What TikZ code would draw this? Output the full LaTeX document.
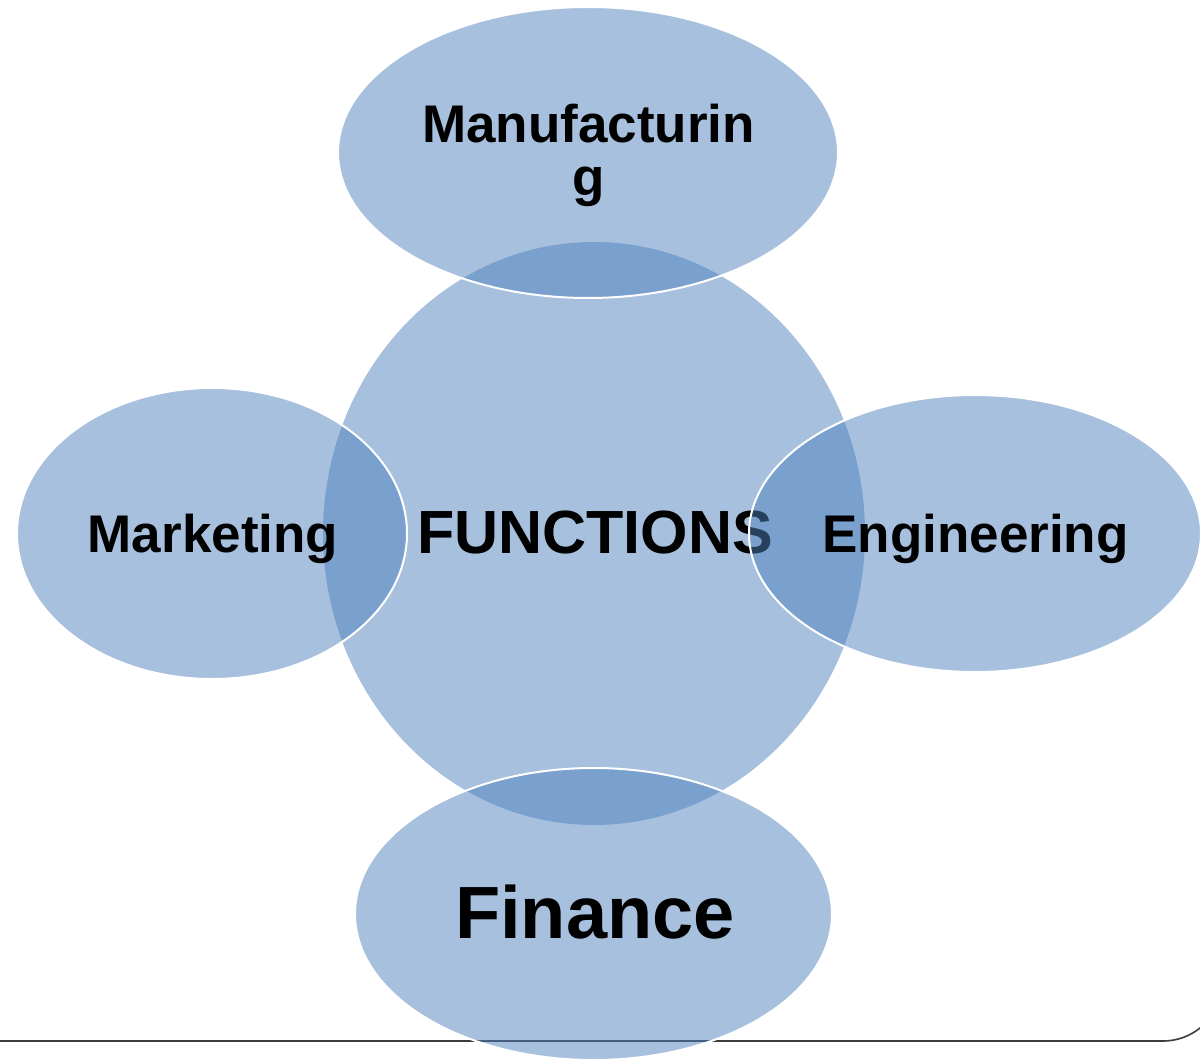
\documentclass[tikz,border=0pt]{standalone}
\usepackage{fontspec}
\setmainfont{Liberation Sans}
\usetikzlibrary{shapes.geometric}
\definecolor{ofblue}{RGB}{79,129,189}
\definecolor{rulegray}{RGB}{60,60,60}
\begin{document}
\begin{tikzpicture}[x=1pt,y=-1pt,
  bubble/.style={ellipse, fill=ofblue, fill opacity=0.5, inner sep=0pt, outer sep=0pt},
  outerbubble/.style={bubble, draw=white, draw opacity=1, line width=2pt},
  lbl/.style={font=\bfseries\fontsize{53}{53}\selectfont, text=black, inner sep=0pt, anchor=base, align=center},
  rule/.style={draw=rulegray, line width=1.6pt}]
\useasboundingbox (0,0) rectangle (1200,1062);
\clip (0,0) rectangle (1200,1062);
% frame rule at bottom
\coordinate (rl) at (0,1041);
\coordinate (rc) at (1163,1041);
\draw[rule] (rl) -- (rc) arc[start angle=90, end angle=40, radius=59];
% central bubble
\node[bubble, minimum width=542pt, minimum height=583pt] (fn) at (594,533.5) {};
\node[lbl, font=\bfseries\fontsize{61}{61}\selectfont] (fnl) at (595,553) {FUNCTIONS};
% outer bubbles
\node[outerbubble, minimum width=500pt, minimum height=291pt] (manu) at (588,152.5) {};
\node[outerbubble, minimum width=390pt, minimum height=291pt] (mkt) at (212,533.5) {};
\node[outerbubble, minimum width=452pt, minimum height=277pt] (eng) at (975,533.5) {};
\node[outerbubble, minimum width=477pt, minimum height=292pt] (fin) at (593.5,914) {};
% labels
\node[lbl] (manul) at (588.5,195) {Manufacturin\\g};
\node[lbl] (mktl) at (213,552) {Marketing};
\node[lbl] (engl) at (975.5,552) {Engineering};
\node[lbl, font=\bfseries\fontsize{74}{74}\selectfont] (finl) at (595,938) {Finance};
\end{tikzpicture}
\end{document}
